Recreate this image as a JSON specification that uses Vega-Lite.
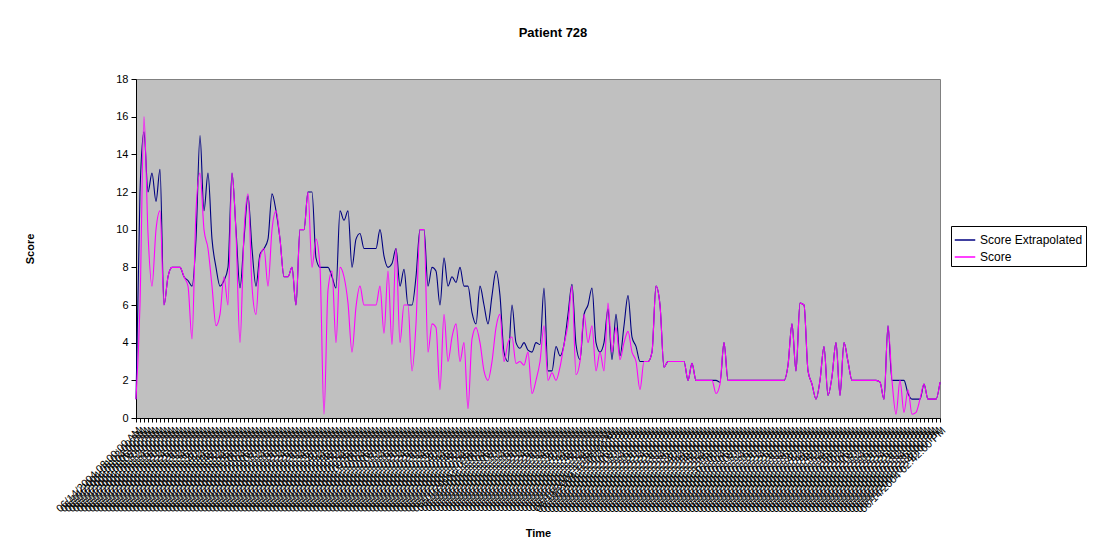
{
"$schema": "https://vega.github.io/schema/vega-lite/v6.json",
"width": 804, "height": 339,
"autosize": {"type": "none"},
"padding": {"left": 136, "top": 79, "right": 156, "bottom": 132},
"background": "white",
"title": {"text": "Patient 728", "font": "Liberation Sans", "fontSize": 13, "fontWeight": "bold", "color": "black", "anchor": "middle", "offset": 33, "dx": 15},
"data": {"values": [
{"t":"06/14/2004 08:00:00 AM","Score Extrapolated":1,"Score":1},
{"t":"06/14/2004 08:02:00 AM","Score Extrapolated":12,"Score":6},
{"t":"06/14/2004 08:04:00 AM","Score Extrapolated":15.2,"Score":16},
{"t":"06/14/2004 08:06:00 AM","Score Extrapolated":12,"Score":9.8},
{"t":"06/14/2004 08:08:00 AM","Score Extrapolated":13,"Score":7},
{"t":"06/14/2004 08:10:00 AM","Score Extrapolated":11.5,"Score":10},
{"t":"06/14/2004 08:12:00 AM","Score Extrapolated":13.2,"Score":11},
{"t":"06/14/2004 08:14:00 AM","Score Extrapolated":6,"Score":6},
{"t":"06/14/2004 08:16:00 AM","Score Extrapolated":7.5,"Score":7.5},
{"t":"06/14/2004 08:18:00 AM","Score Extrapolated":8,"Score":8},
{"t":"06/14/2004 08:20:00 AM","Score Extrapolated":8,"Score":8},
{"t":"06/14/2004 08:22:00 AM","Score Extrapolated":8,"Score":8},
{"t":"06/14/2004 08:24:00 AM","Score Extrapolated":7.5,"Score":7.5},
{"t":"06/14/2004 08:26:00 AM","Score Extrapolated":7.3,"Score":7},
{"t":"06/14/2004 08:28:00 AM","Score Extrapolated":7,"Score":4.2},
{"t":"06/14/2004 08:30:00 AM","Score Extrapolated":9.5,"Score":11},
{"t":"06/14/2004 08:32:00 AM","Score Extrapolated":15,"Score":13},
{"t":"06/14/2004 08:34:00 AM","Score Extrapolated":11,"Score":10},
{"t":"06/14/2004 08:36:00 AM","Score Extrapolated":13,"Score":9},
{"t":"06/14/2004 08:38:00 AM","Score Extrapolated":9.5,"Score":7},
{"t":"06/14/2004 08:40:00 AM","Score Extrapolated":8,"Score":4.9},
{"t":"06/14/2004 08:42:00 AM","Score Extrapolated":7,"Score":5.5},
{"t":"06/14/2004 08:44:00 AM","Score Extrapolated":7.3,"Score":7.5},
{"t":"06/14/2004 08:46:00 AM","Score Extrapolated":8,"Score":6},
{"t":"06/14/2004 08:48:00 AM","Score Extrapolated":13,"Score":13},
{"t":"06/14/2004 08:50:00 AM","Score Extrapolated":10,"Score":9.8},
{"t":"06/14/2004 08:52:00 AM","Score Extrapolated":6.9,"Score":4},
{"t":"06/14/2004 08:54:00 AM","Score Extrapolated":9.5,"Score":9.8},
{"t":"06/14/2004 08:56:00 AM","Score Extrapolated":11.8,"Score":11.9},
{"t":"06/14/2004 08:58:00 AM","Score Extrapolated":9,"Score":7},
{"t":"06/14/2004 09:00:00 AM","Score Extrapolated":7,"Score":5.5},
{"t":"06/14/2004 09:02:00 AM","Score Extrapolated":8.7,"Score":8.5},
{"t":"06/14/2004 09:04:00 AM","Score Extrapolated":9,"Score":9},
{"t":"06/14/2004 09:06:00 AM","Score Extrapolated":9.5,"Score":7},
{"t":"06/14/2004 09:08:00 AM","Score Extrapolated":11.9,"Score":10},
{"t":"06/14/2004 09:10:00 AM","Score Extrapolated":11,"Score":11},
{"t":"06/14/2004 09:12:00 AM","Score Extrapolated":9.5,"Score":9.5},
{"t":"06/14/2004 09:14:00 AM","Score Extrapolated":7.5,"Score":7.5},
{"t":"06/14/2004 09:16:00 AM","Score Extrapolated":7.5,"Score":7.5},
{"t":"06/14/2004 09:18:00 AM","Score Extrapolated":8,"Score":8},
{"t":"06/14/2004 09:20:00 AM","Score Extrapolated":6,"Score":6},
{"t":"06/14/2004 09:22:00 AM","Score Extrapolated":10,"Score":10},
{"t":"06/14/2004 09:24:00 AM","Score Extrapolated":10,"Score":10},
{"t":"06/14/2004 09:26:00 AM","Score Extrapolated":12,"Score":12},
{"t":"06/14/2004 09:28:00 AM","Score Extrapolated":12,"Score":8},
{"t":"06/14/2004 09:30:00 AM","Score Extrapolated":8.5,"Score":9.5},
{"t":"06/14/2004 09:32:00 AM","Score Extrapolated":8,"Score":8},
{"t":"06/14/2004 09:34:00 AM","Score Extrapolated":8,"Score":0.2},
{"t":"06/14/2004 09:36:00 AM","Score Extrapolated":8,"Score":6.8},
{"t":"06/14/2004 09:38:00 AM","Score Extrapolated":7.5,"Score":7.8},
{"t":"06/14/2004 09:40:00 AM","Score Extrapolated":6.9,"Score":4},
{"t":"06/14/2004 09:42:00 AM","Score Extrapolated":11,"Score":8},
{"t":"06/14/2004 09:44:00 AM","Score Extrapolated":10.5,"Score":7.5},
{"t":"06/14/2004 09:46:00 AM","Score Extrapolated":11,"Score":6.1},
{"t":"06/14/2004 09:48:00 AM","Score Extrapolated":8,"Score":3.5},
{"t":"06/14/2004 09:50:00 AM","Score Extrapolated":9.5,"Score":5.9},
{"t":"06/14/2004 09:52:00 AM","Score Extrapolated":9.8,"Score":7},
{"t":"06/14/2004 09:54:00 AM","Score Extrapolated":9,"Score":6},
{"t":"06/14/2004 09:56:00 AM","Score Extrapolated":9,"Score":6},
{"t":"06/14/2004 09:58:00 AM","Score Extrapolated":9,"Score":6},
{"t":"06/14/2004 10:00:00 AM","Score Extrapolated":9,"Score":6},
{"t":"06/14/2004 10:02:00 AM","Score Extrapolated":10,"Score":7},
{"t":"06/14/2004 10:04:00 AM","Score Extrapolated":8.6,"Score":4.5},
{"t":"06/14/2004 10:06:00 AM","Score Extrapolated":8,"Score":7.8},
{"t":"06/14/2004 10:08:00 AM","Score Extrapolated":8.2,"Score":3.9},
{"t":"06/14/2004 10:10:00 AM","Score Extrapolated":9,"Score":9},
{"t":"06/14/2004 10:12:00 AM","Score Extrapolated":7,"Score":4},
{"t":"06/14/2004 10:14:00 AM","Score Extrapolated":7.9,"Score":6},
{"t":"06/14/2004 10:16:00 AM","Score Extrapolated":6,"Score":6},
{"t":"06/14/2004 10:18:00 AM","Score Extrapolated":6,"Score":2.5},
{"t":"06/14/2004 10:20:00 AM","Score Extrapolated":7.5,"Score":5},
{"t":"06/14/2004 10:22:00 AM","Score Extrapolated":10,"Score":10},
{"t":"06/14/2004 10:24:00 AM","Score Extrapolated":10,"Score":10},
{"t":"06/14/2004 10:26:00 AM","Score Extrapolated":7,"Score":3.5},
{"t":"06/14/2004 10:28:00 AM","Score Extrapolated":8,"Score":5},
{"t":"06/14/2004 10:30:00 AM","Score Extrapolated":7.8,"Score":4.8},
{"t":"06/14/2004 10:32:00 AM","Score Extrapolated":6,"Score":1.5},
{"t":"06/14/2004 10:34:00 AM","Score Extrapolated":8.5,"Score":5.5},
{"t":"06/14/2004 10:36:00 AM","Score Extrapolated":7,"Score":3},
{"t":"06/14/2004 10:38:00 AM","Score Extrapolated":7.5,"Score":4.3},
{"t":"06/14/2004 10:40:00 AM","Score Extrapolated":7.2,"Score":5},
{"t":"06/14/2004 10:42:00 AM","Score Extrapolated":8,"Score":3},
{"t":"06/14/2004 10:44:00 AM","Score Extrapolated":7,"Score":4},
{"t":"06/14/2004 10:46:00 AM","Score Extrapolated":7,"Score":0.5},
{"t":"06/14/2004 10:48:00 AM","Score Extrapolated":5.6,"Score":4.2},
{"t":"06/14/2004 10:50:00 AM","Score Extrapolated":5,"Score":4.8},
{"t":"06/14/2004 10:52:00 AM","Score Extrapolated":7,"Score":4},
{"t":"06/14/2004 10:54:00 AM","Score Extrapolated":6,"Score":2.5},
{"t":"06/14/2004 10:56:00 AM","Score Extrapolated":5,"Score":2},
{"t":"06/14/2004 10:58:00 AM","Score Extrapolated":6.5,"Score":3},
{"t":"06/14/2004 11:00:00 AM","Score Extrapolated":7.8,"Score":4.8},
{"t":"06/14/2004 11:02:00 AM","Score Extrapolated":6.5,"Score":5.5},
{"t":"06/14/2004 11:04:00 AM","Score Extrapolated":3.5,"Score":3},
{"t":"06/14/2004 11:06:00 AM","Score Extrapolated":3,"Score":4},
{"t":"06/14/2004 11:08:00 AM","Score Extrapolated":6,"Score":4.3},
{"t":"06/14/2004 11:10:00 AM","Score Extrapolated":4,"Score":2.9},
{"t":"06/14/2004 11:12:00 AM","Score Extrapolated":3.7,"Score":3},
{"t":"06/14/2004 11:14:00 AM","Score Extrapolated":4,"Score":2.8},
{"t":"06/14/2004 11:16:00 AM","Score Extrapolated":3.6,"Score":3.5},
{"t":"06/14/2004 11:18:00 AM","Score Extrapolated":3.5,"Score":1.3},
{"t":"06/14/2004 11:20:00 AM","Score Extrapolated":4,"Score":2},
{"t":"06/14/2004 11:22:00 AM","Score Extrapolated":3.9,"Score":3},
{"t":"06/14/2004 11:24:00 AM","Score Extrapolated":6.9,"Score":4.9},
{"t":"06/14/2004 11:26:00 AM","Score Extrapolated":2.5,"Score":2},
{"t":"06/14/2004 11:28:00 AM","Score Extrapolated":2.5,"Score":2.4},
{"t":"06/14/2004 11:30:00 AM","Score Extrapolated":3.8,"Score":2},
{"t":"06/14/2004 11:32:00 AM","Score Extrapolated":3.3,"Score":2.7},
{"t":"06/14/2004 11:34:00 AM","Score Extrapolated":3.9,"Score":3.9},
{"t":"06/14/2004 11:36:00 AM","Score Extrapolated":5.5,"Score":5},
{"t":"06/14/2004 11:38:00 AM","Score Extrapolated":7.1,"Score":7},
{"t":"06/14/2004 11:40:00 AM","Score Extrapolated":3.9,"Score":2.3},
{"t":"06/14/2004 11:42:00 AM","Score Extrapolated":3.1,"Score":3},
{"t":"06/14/2004 11:44:00 AM","Score Extrapolated":5.5,"Score":5.5},
{"t":"06/14/2004 11:46:00 AM","Score Extrapolated":6,"Score":4},
{"t":"06/14/2004 11:48:00 AM","Score Extrapolated":6.9,"Score":4.9},
{"t":"06/14/2004 11:50:00 AM","Score Extrapolated":4,"Score":2.5},
{"t":"06/14/2004 11:52:00 AM","Score Extrapolated":3.5,"Score":3.5},
{"t":"06/14/2004 11:54:00 AM","Score Extrapolated":4,"Score":2.5},
{"t":"06/14/2004 11:56:00 AM","Score Extrapolated":5.8,"Score":6.1},
{"t":"06/14/2004 11:58:00 AM","Score Extrapolated":3.1,"Score":3.5},
{"t":"06/14/2004 12:00:00 PM","Score Extrapolated":5.5,"Score":4.8},
{"t":"06/14/2004 12:02:00 PM","Score Extrapolated":3.3,"Score":3.1},
{"t":"06/14/2004 12:04:00 PM","Score Extrapolated":4.9,"Score":4},
{"t":"06/14/2004 12:06:00 PM","Score Extrapolated":6.5,"Score":4.6},
{"t":"06/14/2004 12:08:00 PM","Score Extrapolated":4.3,"Score":3.5},
{"t":"06/14/2004 12:10:00 PM","Score Extrapolated":3.8,"Score":3},
{"t":"06/14/2004 12:12:00 PM","Score Extrapolated":3,"Score":1.5},
{"t":"06/14/2004 12:14:00 PM","Score Extrapolated":3,"Score":3},
{"t":"06/14/2004 12:16:00 PM","Score Extrapolated":3,"Score":3},
{"t":"06/14/2004 12:18:00 PM","Score Extrapolated":3.5,"Score":3.5},
{"t":"06/14/2004 12:20:00 PM","Score Extrapolated":7,"Score":7},
{"t":"06/14/2004 12:22:00 PM","Score Extrapolated":6,"Score":6},
{"t":"06/14/2004 12:24:00 PM","Score Extrapolated":2.7,"Score":2.7},
{"t":"06/14/2004 12:26:00 PM","Score Extrapolated":3,"Score":3},
{"t":"06/14/2004 12:28:00 PM","Score Extrapolated":3,"Score":3},
{"t":"06/14/2004 12:30:00 PM","Score Extrapolated":3,"Score":3},
{"t":"06/14/2004 12:32:00 PM","Score Extrapolated":3,"Score":3},
{"t":"06/14/2004 12:34:00 PM","Score Extrapolated":3,"Score":3},
{"t":"06/14/2004 12:36:00 PM","Score Extrapolated":2,"Score":2},
{"t":"06/14/2004 12:38:00 PM","Score Extrapolated":2.9,"Score":2.9},
{"t":"06/14/2004 12:40:00 PM","Score Extrapolated":2,"Score":2},
{"t":"06/14/2004 12:42:00 PM","Score Extrapolated":2,"Score":2},
{"t":"06/14/2004 12:44:00 PM","Score Extrapolated":2,"Score":2},
{"t":"06/14/2004 12:46:00 PM","Score Extrapolated":2,"Score":2},
{"t":"06/14/2004 12:48:00 PM","Score Extrapolated":2,"Score":2},
{"t":"06/14/2004 12:50:00 PM","Score Extrapolated":2,"Score":1.3},
{"t":"06/14/2004 12:52:00 PM","Score Extrapolated":1.9,"Score":1.8},
{"t":"06/14/2004 12:54:00 PM","Score Extrapolated":4,"Score":4},
{"t":"06/14/2004 12:56:00 PM","Score Extrapolated":2,"Score":2},
{"t":"06/14/2004 12:58:00 PM","Score Extrapolated":2,"Score":2},
{"t":"06/14/2004 01:00:00 PM","Score Extrapolated":2,"Score":2},
{"t":"06/14/2004 01:02:00 PM","Score Extrapolated":2,"Score":2},
{"t":"06/14/2004 01:04:00 PM","Score Extrapolated":2,"Score":2},
{"t":"06/14/2004 01:06:00 PM","Score Extrapolated":2,"Score":2},
{"t":"06/14/2004 01:08:00 PM","Score Extrapolated":2,"Score":2},
{"t":"06/14/2004 01:10:00 PM","Score Extrapolated":2,"Score":2},
{"t":"06/14/2004 01:12:00 PM","Score Extrapolated":2,"Score":2},
{"t":"06/14/2004 01:14:00 PM","Score Extrapolated":2,"Score":2},
{"t":"06/14/2004 01:16:00 PM","Score Extrapolated":2,"Score":2},
{"t":"06/14/2004 01:18:00 PM","Score Extrapolated":2,"Score":2},
{"t":"06/14/2004 01:20:00 PM","Score Extrapolated":2,"Score":2},
{"t":"06/14/2004 01:22:00 PM","Score Extrapolated":2,"Score":2},
{"t":"06/14/2004 01:24:00 PM","Score Extrapolated":2,"Score":2},
{"t":"06/14/2004 01:26:00 PM","Score Extrapolated":2.8,"Score":2.8},
{"t":"06/14/2004 01:28:00 PM","Score Extrapolated":5,"Score":5},
{"t":"06/14/2004 01:30:00 PM","Score Extrapolated":2.5,"Score":2.5},
{"t":"06/14/2004 01:32:00 PM","Score Extrapolated":6.1,"Score":6.1},
{"t":"06/14/2004 01:34:00 PM","Score Extrapolated":6,"Score":6},
{"t":"06/14/2004 01:36:00 PM","Score Extrapolated":2.5,"Score":2.5},
{"t":"06/14/2004 01:38:00 PM","Score Extrapolated":1.8,"Score":1.8},
{"t":"06/14/2004 01:40:00 PM","Score Extrapolated":1,"Score":1},
{"t":"06/14/2004 01:42:00 PM","Score Extrapolated":2,"Score":2},
{"t":"06/14/2004 01:44:00 PM","Score Extrapolated":3.8,"Score":3.8},
{"t":"06/14/2004 01:46:00 PM","Score Extrapolated":1.2,"Score":1.2},
{"t":"06/14/2004 01:48:00 PM","Score Extrapolated":2.2,"Score":2.2},
{"t":"06/14/2004 01:50:00 PM","Score Extrapolated":4,"Score":4},
{"t":"06/14/2004 01:52:00 PM","Score Extrapolated":1.2,"Score":1.2},
{"t":"06/14/2004 01:54:00 PM","Score Extrapolated":4,"Score":4},
{"t":"06/14/2004 01:56:00 PM","Score Extrapolated":3,"Score":3},
{"t":"06/14/2004 01:58:00 PM","Score Extrapolated":2,"Score":2},
{"t":"06/14/2004 02:00:00 PM","Score Extrapolated":2,"Score":2},
{"t":"06/14/2004 02:02:00 PM","Score Extrapolated":2,"Score":2},
{"t":"06/14/2004 02:04:00 PM","Score Extrapolated":2,"Score":2},
{"t":"06/14/2004 02:06:00 PM","Score Extrapolated":2,"Score":2},
{"t":"06/14/2004 02:08:00 PM","Score Extrapolated":2,"Score":2},
{"t":"06/14/2004 02:10:00 PM","Score Extrapolated":2,"Score":2},
{"t":"06/14/2004 02:12:00 PM","Score Extrapolated":1.9,"Score":1.9},
{"t":"06/14/2004 02:14:00 PM","Score Extrapolated":1,"Score":1},
{"t":"06/14/2004 02:16:00 PM","Score Extrapolated":4.9,"Score":4.9},
{"t":"06/14/2004 02:18:00 PM","Score Extrapolated":2,"Score":2},
{"t":"06/14/2004 02:20:00 PM","Score Extrapolated":2,"Score":0.2},
{"t":"06/14/2004 02:22:00 PM","Score Extrapolated":2,"Score":2},
{"t":"06/14/2004 02:24:00 PM","Score Extrapolated":2,"Score":0.3},
{"t":"06/14/2004 02:26:00 PM","Score Extrapolated":1.3,"Score":1.5},
{"t":"06/14/2004 02:28:00 PM","Score Extrapolated":1,"Score":0.2},
{"t":"06/14/2004 02:30:00 PM","Score Extrapolated":1,"Score":0.3},
{"t":"06/14/2004 02:32:00 PM","Score Extrapolated":1,"Score":1},
{"t":"06/14/2004 02:34:00 PM","Score Extrapolated":1.8,"Score":1.8},
{"t":"06/14/2004 02:36:00 PM","Score Extrapolated":1,"Score":1},
{"t":"06/14/2004 02:38:00 PM","Score Extrapolated":1,"Score":1},
{"t":"06/14/2004 02:40:00 PM","Score Extrapolated":1,"Score":1},
{"t":"06/14/2004 02:42:00 PM","Score Extrapolated":1.9,"Score":1.9}
]},
"transform": [{"fold": ["Score Extrapolated", "Score"], "as": ["series", "value"]}],
"encoding": {
  "x": {"field": "t", "type": "ordinal", "sort": null, "title": "Time",
        "scale": {"type": "point", "padding": 0},
        "axis": {"labelAngle": -45, "labelFontSize": 10.6, "labelOverlap": false, "labelColor": "black", "labelPadding": 3,
                 "tickColor": "black", "tickSize": 4, "domainColor": "black", "grid": false,
                 "titleFontWeight": "bold", "titleFontSize": 11, "titleColor": "black",
                 "titleX": 402, "titleY": 115, "titleBaseline": "middle", "titleAlign": "center"}},
  "y": {"field": "value", "type": "quantitative", "title": "Score",
        "scale": {"domain": [0, 18], "nice": false},
        "axis": {"values": [0, 2, 4, 6, 8, 10, 12, 14, 16, 18], "tickSize": 5, "tickColor": "black", "domainColor": "black",
                 "labelFontSize": 11, "labelColor": "black", "labelPadding": 3, "grid": false,
                 "titleFontWeight": "bold", "titleFontSize": 11, "titleColor": "black",
                 "titleX": -106, "titleY": 169.5, "titleAngle": -90, "titleBaseline": "middle", "titleAlign": "center"}},
  "color": {"field": "series", "type": "nominal",
            "scale": {"domain": ["Score Extrapolated", "Score"], "range": ["#000080", "#FF00FF"]},
            "legend": {"orient": "none", "legendX": 815, "legendY": 147, "title": null,
                       "fillColor": "white", "strokeColor": "black", "padding": 3,
                       "labelFontSize": 12, "labelColor": "black", "labelOffset": 4,
                       "symbolType": "stroke", "symbolSize": 420, "symbolStrokeWidth": 1.5, "rowPadding": 0}}
},
"layer": [
  {"transform": [{"filter": "datum.series == 'Score Extrapolated'"}],
   "mark": {"type": "line", "interpolate": "monotone", "strokeWidth": 1.1}},
  {"transform": [{"filter": "datum.series == 'Score'"}],
   "mark": {"type": "line", "interpolate": "monotone", "strokeWidth": 1.1}}
],
"config": {"font": "Liberation Sans", "view": {"fill": "#C0C0C0", "stroke": "#808080"}}
}
